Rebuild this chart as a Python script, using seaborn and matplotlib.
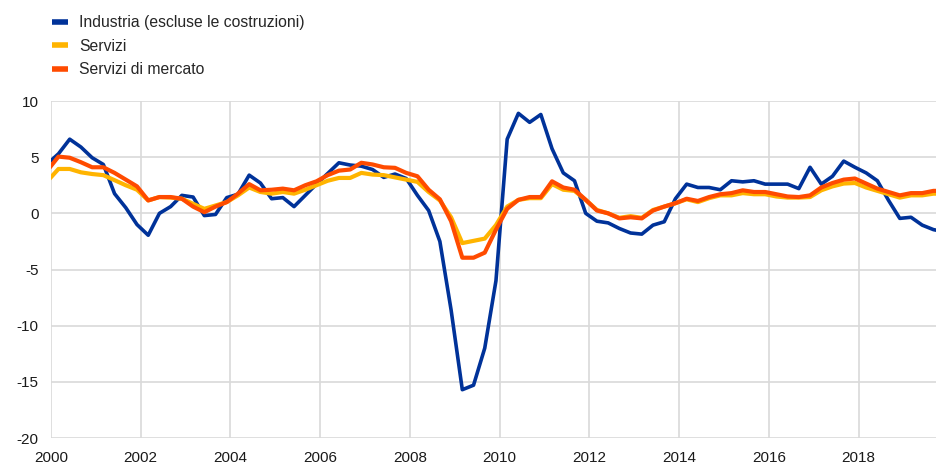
import numpy as np
import pandas as pd
import matplotlib.pyplot as plt
import seaborn as sns

# Quarterly observations, Dec 1999 to Dec 2019 (plotted at the last month of each quarter)
quarters = pd.period_range("1999Q4", "2019Q4", freq="Q")

industria = [4.4, 5.3, 6.6, 5.9, 4.95, 4.35, 1.75, 0.5, -1.0, -1.95,
             0.0, 0.6, 1.6, 1.45, -0.2, -0.1, 1.4, 1.7, 3.4, 2.7,
             1.3, 1.4, 0.6, 1.6, 2.6, 3.55, 4.5, 4.3, 4.2, 3.9,
             3.2, 3.5, 3.1, 1.6, 0.25, -2.5, -8.6, -15.7, -15.3, -12.0,
             -6.0, 6.6, 8.9, 8.1, 8.8, 5.75, 3.6, 2.9, 0.0, -0.7,
             -0.85, -1.35, -1.75, -1.85, -1.05, -0.75, 1.3, 2.6, 2.3, 2.3,
             2.1, 2.9, 2.8, 2.9, 2.6, 2.6, 2.6, 2.2, 4.1, 2.6,
             3.3, 4.65, 4.1, 3.6, 2.9, 1.15, -0.45, -0.35, -1.05, -1.45,
             -1.65]

servizi = [2.85, 3.95, 3.95, 3.65, 3.5, 3.4, 2.95, 2.5, 2.1, 1.15,
           1.45, 1.4, 1.3, 0.85, 0.4, 0.7, 1.0, 1.6, 2.3, 1.9,
           1.75, 1.9, 1.75, 2.1, 2.5, 2.9, 3.15, 3.15, 3.6, 3.45,
           3.4, 3.2, 3.0, 2.8, 1.9, 1.15, -0.35, -2.65, -2.45, -2.25,
           -1.05, 0.6, 1.2, 1.35, 1.35, 2.6, 2.1, 2.0, 1.2, 0.3,
           0.0, -0.4, -0.25, -0.4, 0.3, 0.6, 0.9, 1.25, 1.0, 1.35,
           1.6, 1.6, 1.8, 1.7, 1.7, 1.5, 1.4, 1.4, 1.45, 2.05,
           2.4, 2.65, 2.7, 2.3, 2.0, 1.7, 1.4, 1.6, 1.6, 1.75,
           1.75]

servizi_mercato = [3.8, 5.05, 4.95, 4.55, 4.1, 4.1, 3.6, 3.0, 2.4, 1.15,
                   1.45, 1.45, 1.3, 0.6, 0.1, 0.6, 1.0, 1.75, 2.6, 2.05,
                   2.1, 2.2, 2.05, 2.5, 2.85, 3.4, 3.8, 3.9, 4.5, 4.35,
                   4.1, 4.05, 3.6, 3.3, 2.1, 1.25, -0.7, -3.95, -3.95, -3.5,
                   -1.45, 0.4, 1.2, 1.45, 1.45, 2.85, 2.3, 2.1, 1.2, 0.25,
                   0.0, -0.45, -0.35, -0.45, 0.25, 0.6, 0.9, 1.3, 1.1, 1.45,
                   1.7, 1.8, 2.05, 1.9, 1.9, 1.7, 1.5, 1.45, 1.6, 2.3,
                   2.7, 3.0, 3.1, 2.65, 2.2, 1.9, 1.6, 1.8, 1.8, 2.0,
                   2.0]

labels = ["Industria (escluse le costruzioni)", "Servizi", "Servizi di mercato"]
colors = {labels[0]: "#003299", labels[1]: "#FFB400", labels[2]: "#FF4B00"}
widths = {labels[0]: 2.6, labels[1]: 3.0, labels[2]: 3.0}

# Build long-format table
t = quarters.year + (quarters.end_time.month - 1) / 12
df = pd.DataFrame({"t": t, labels[0]: industria, labels[1]: servizi, labels[2]: servizi_mercato})
long = df.melt(id_vars="t", var_name="serie", value_name="valore")

sns.set_style("white")
plt.rcParams["font.family"] = ["Liberation Sans", "DejaVu Sans"]
plt.rcParams["axes.unicode_minus"] = False

fig = plt.figure(figsize=(9.37, 4.63), dpi=100)
ax = fig.add_axes([51 / 937, 25 / 463, 886 / 937, 337 / 463])

for lab in labels:
    sns.lineplot(data=long[long["serie"] == lab], x="t", y="valore", color=colors[lab],
                 linewidth=widths[lab], ax=ax, legend=False)

ax.set_xlim(2000, 2000 + 886 / 44.87)
ax.set_ylim(-20, 10)
ax.set_xticks(np.arange(2000, 2019, 2))
ax.set_yticks(np.arange(-20, 11, 5))
ax.grid(True, color="#d9d9d9", linewidth=1.2)
ax.set_axisbelow(True)
for s in ax.spines.values():
    s.set_visible(False)
ax.tick_params(length=0, labelsize=11, labelcolor="#1a1a1a")
ax.tick_params(axis="y", pad=9)
ax.tick_params(axis="x", pad=9)
ax.set_xlabel("")
ax.set_ylabel("")

handles = [plt.Line2D([], [], color=colors[lab], linewidth=4, solid_capstyle="butt") for lab in labels]
fig.legend(handles, labels, loc="upper left", bbox_to_anchor=(52 / 937, 1 - 15 / 463),
           frameon=False, fontsize=11.3, handlelength=1.0, handletextpad=0.75,
           labelspacing=0.55, borderpad=0, borderaxespad=0)

fig.savefig("out.png", dpi=100)
